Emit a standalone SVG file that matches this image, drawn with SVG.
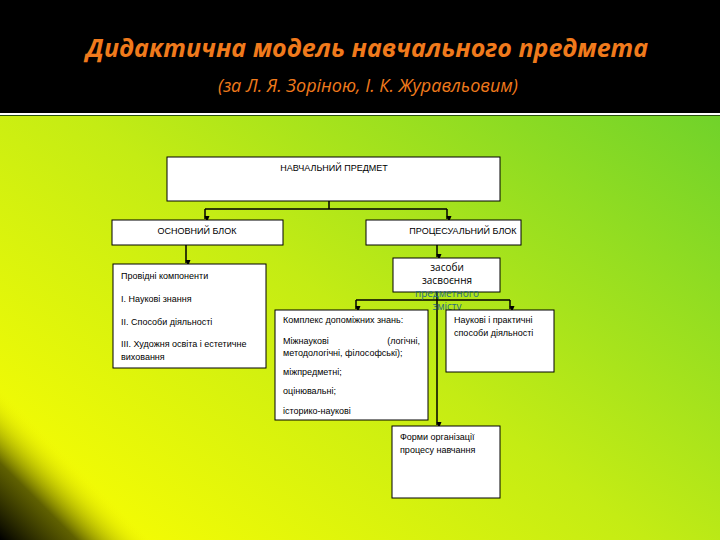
<svg xmlns="http://www.w3.org/2000/svg" width="720" height="540" viewBox="0 0 720 540">
<defs>
<linearGradient id="bg" x1="0" y1="1" x2="1" y2="0">
<stop offset="0" stop-color="#ffff00"/>
<stop offset="0.45" stop-color="#c4ec14"/>
<stop offset="1" stop-color="#5ccc30"/>
</linearGradient>
<linearGradient id="corner" x1="0" y1="540" x2="110" y2="430" gradientUnits="userSpaceOnUse">
<stop offset="0" stop-color="#000" stop-opacity="1"/>
<stop offset="0.35" stop-color="#3a3a00" stop-opacity="0.8"/>
<stop offset="0.7" stop-color="#ffff00" stop-opacity="0"/>
</linearGradient>
<marker id="ar" markerWidth="6" markerHeight="6" refX="3" refY="5" orient="auto-start-reverse" viewBox="0 0 6 6" markerUnits="userSpaceOnUse">
<path d="M0.5,0 L5.5,0 L3,6 Z" fill="#000" transform="rotate(-90 3 3)"/>
</marker>
<style>
.box{fill:#fff;stroke:#000;stroke-width:1}
.t{font-family:"Liberation Sans","DejaVu Sans",sans-serif;font-size:9px;fill:#000}
.big{font-family:"Open Sans","DejaVu Sans",sans-serif;font-size:10px;fill:#000}
.c{fill:none;stroke:#000;stroke-width:1.5}
.h{font-family:"Open Sans","DejaVu Sans",sans-serif;font-style:italic;fill:#f07a1c}
</style>
</defs>
<rect width="720" height="540" fill="url(#bg)"/>
<rect width="720" height="540" fill="url(#corner)"/>
<rect width="720" height="113" fill="#000"/>
<rect y="113" width="720" height="2" fill="#fff"/>
<rect y="115" width="720" height="1" fill="#2a5010"/>
<text class="h" x="367" y="57" font-size="25" font-weight="bold" text-anchor="middle">Дидактична модель навчального предмета</text>
<text class="h" x="368" y="92" font-size="18" text-anchor="middle">(за Л. Я. Зоріною, І. К. Журавльовим)</text>

<g id="connectors">
<path class="c" d="M329,201 V209 M205,209 H447"/>
<path class="c" d="M205,209 V219" marker-end="url(#ar)"/>
<path class="c" d="M447,209 V219" marker-end="url(#ar)"/>
<path class="c" d="M186,245 V263" marker-end="url(#ar)"/>
<path class="c" d="M437,245 V257" marker-end="url(#ar)"/>
<path class="c" d="M356,300 H510"/>
<path class="c" d="M356,300 V309" marker-end="url(#ar)"/>
<path class="c" d="M510,300 V309" marker-end="url(#ar)"/>
<path class="c" d="M437,292 V425" marker-end="url(#ar)"/>
</g>

<g id="n1"><rect class="box" x="167" y="157" width="333" height="44"/><text class="t" x="334" y="171" text-anchor="middle">НАВЧАЛЬНИЙ ПРЕДМЕТ</text></g>
<g id="n2"><rect class="box" x="112" y="220" width="171" height="25"/><text class="t" x="197" y="234" text-anchor="middle">ОСНОВНИЙ БЛОК</text></g>
<g id="n3"><rect class="box" x="366" y="220" width="155" height="25"/><text class="t" x="463" y="234" text-anchor="middle">ПРОЦЕСУАЛЬНИЙ БЛОК</text></g>
<g id="n4"><rect class="box" x="113" y="264" width="153" height="104"/>
<text class="t" x="121" y="279">Провідні компоненти</text>
<text class="t" x="121" y="302">І. Наукові знання</text>
<text class="t" x="121" y="325">ІІ. Способи діяльності</text>
<text class="t" x="121" y="347">ІІІ. Художня освіта і естетичне</text>
<text class="t" x="121" y="360">виховання</text></g>
<g id="n5"><rect class="box" x="393" y="258" width="107" height="34"/>
<text class="big" text-anchor="middle" x="447"><tspan x="447" y="271">засоби</tspan><tspan x="447" y="284">засвоєння</tspan><tspan x="447" y="297" fill="#2a6a80">предметного</tspan><tspan x="447" y="310" fill="#2a6a80">змісту</tspan></text></g>
<g id="n6"><rect class="box" x="275" y="310" width="153" height="110"/>
<text class="t" x="283" y="323">Комплекс допоміжних знань:</text>
<text class="t" x="283" y="344">Міжнаукові</text><text class="t" x="420" y="344" text-anchor="end" font-family="Liberation Serif">(логічні,</text>
<text class="t" x="283" y="356" font-family="Liberation Serif">методологічні, філософські);</text>
<text class="t" x="283" y="375">міжпредметні;</text>
<text class="t" x="283" y="394">оцінювальні;</text>
<text class="t" x="283" y="414">історико-наукові</text></g>
<g id="n7"><rect class="box" x="446" y="310" width="108" height="62"/>
<text class="t" x="454" y="323">Наукові і практичні</text>
<text class="t" x="454" y="336">способи діяльності</text></g>
<g id="n8"><rect class="box" x="392" y="426" width="108" height="72"/>
<text class="t" x="400" y="440">Форми організації</text>
<text class="t" x="400" y="453">процесу навчання</text></g>
</svg>
